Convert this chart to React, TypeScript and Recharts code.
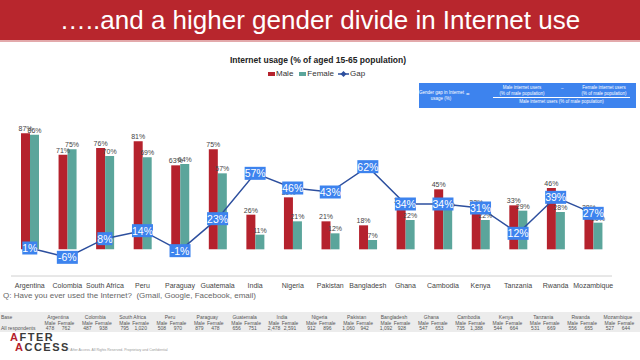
import React from 'react'
import { ComposedChart, Bar, Line, XAxis, YAxis, LabelList } from 'recharts'

const countries = [
  'Argentina', 'Colombia', 'South Africa', 'Peru', 'Paraguay', 'Guatemala', 'India', 'Nigeria',
  'Pakistan', 'Bangladesh', 'Ghana', 'Cambodia', 'Kenya', 'Tanzania', 'Rwanda', 'Mozambique',
]
const maleUsage = [87, 71, 76, 81, 63, 75, 26, 39, 21, 18, 33, 45, 32, 33, 46, 28]
const femaleUsage = [86, 75, 70, 69, 64, 57, 11, 21, 12, 7, 22, 30, 22, 29, 28, 20]
const gapPct = [1, -6, 8, 14, -1, 23, 57, 46, 43, 62, 34, 34, 31, 12, 39, 27]
const baseMale = ['478', '487', '795', '508', '879', '656', '2,478', '912', '1,060', '1,092', '547', '735', '544', '531', '556', '527']
const baseFemale = ['762', '938', '1,020', '970', '478', '751', '2,591', '896', '942', '928', '653', '1,388', '664', '669', '655', '644']

const RED = '#b5222d'
const TEAL = '#5ba59b'
const LINE = '#2d4f9e'
const BOX = '#3d83ee'
const FONT = '"Liberation Sans", Arial, sans-serif'

const data = countries.map((c, i) => ({
  country: c,
  male: maleUsage[i],
  female: femaleUsage[i],
  gap: gapPct[i],
}))

function GapLabel(props: any) {
  const { x, y, value } = props
  if (x == null || y == null) return null
  const txt = `${value}%`
  const w = txt.length * 6 + 3
  const h = 13
  return (
    <g>
      <rect x={x - w / 2} y={y - h / 2} width={w} height={h} fill={BOX} />
      <text x={x} y={y + 4} textAnchor="middle" fontSize={10.5} fill="#fff" fontFamily={FONT}>
        {txt}
      </text>
    </g>
  )
}

const pct = (v: any) => `${v}%`

function Formula() {
  const t: React.CSSProperties = { position: 'absolute', fontSize: 4.5, color: '#fff', whiteSpace: 'nowrap', lineHeight: '5.5px', textAlign: 'center' }
  return (
    <div style={{ position: 'absolute', left: 419, top: 83, width: 217, height: 25, background: BOX }}>
      <div style={{ ...t, left: 0, width: 44, top: 7 }}>Gender gap in Internet<br />usage (%)</div>
      <div style={{ ...t, left: 47, top: 9, fontSize: 6 }}>=</div>
      <div style={{ ...t, left: 78, width: 50, top: 2 }}>Male internet users<br />(% of male population)</div>
      <div style={{ ...t, left: 142, top: 3 }}>–</div>
      <div style={{ ...t, left: 160, width: 50, top: 2 }}>Female internet users<br />(% of male population)</div>
      <div style={{ position: 'absolute', left: 74, width: 137, top: 14, borderTop: '0.5px solid #fff' }} />
      <div style={{ ...t, left: 74, width: 137, top: 16 }}>Male internet users (% of male population)</div>
    </div>
  )
}

function BaseTable() {
  const cell: React.CSSProperties = { position: 'absolute', fontSize: 5, color: '#555', whiteSpace: 'nowrap', transform: 'translateX(-50%)', lineHeight: '6px' }
  return (
    <div style={{ position: 'absolute', left: 0, top: 312, width: 640, height: 20, background: '#ececec' }}>
      <div style={{ ...cell, transform: 'none', left: 1, top: 2 }}>Base</div>
      <div style={{ ...cell, transform: 'none', left: 1, top: 13 }}>All respondents</div>
      {countries.map((c, i) => {
        const mx = 50 + i * 37.33
        return (
          <React.Fragment key={c}>
            <div style={{ ...cell, left: mx + 8, top: 2 }}>{c}</div>
            <div style={{ ...cell, left: mx, top: 8 }}>Male</div>
            <div style={{ ...cell, left: mx + 16, top: 8 }}>Female</div>
            <div style={{ ...cell, left: mx, top: 13 }}>{baseMale[i]}</div>
            <div style={{ ...cell, left: mx + 16, top: 13 }}>{baseFemale[i]}</div>
          </React.Fragment>
        )
      })}
    </div>
  )
}

export default function App() {
  return (
    <div style={{ position: 'absolute', left: 0, top: 0, width: 640, height: 360, background: '#fff', fontFamily: FONT, overflow: 'hidden' }}>
      <div style={{ position: 'absolute', left: 0, top: 0, width: 640, height: 40, background: '#b8262d', borderBottom: '2px solid #e3a9ab' }}>
        <div style={{ position: 'absolute', left: 0, width: 640, top: 5, textAlign: 'center', color: '#fff', fontSize: 26 }}>
          …..and a higher gender divide in Internet use
        </div>
      </div>

      <div style={{ position: 'absolute', left: 0, width: 636, top: 55, textAlign: 'center', fontSize: 8.5, fontWeight: 'bold', color: '#222' }}>
        Internet usage (% of aged 15-65 population)
      </div>

      <div style={{ position: 'absolute', left: 268, top: 69, fontSize: 8, color: '#333', display: 'flex', alignItems: 'center' }}>
        <span style={{ display: 'inline-block', width: 7, height: 4, background: RED, marginRight: 1 }} />Male
        <span style={{ display: 'inline-block', width: 7, height: 4, background: TEAL, margin: '0 1px 0 6px' }} />Female
        <svg width={11} height={8} style={{ margin: '0 1px 0 4px' }}>
          <line x1={0} y1={4} x2={11} y2={4} stroke={LINE} strokeWidth={1.5} />
          <path d="M5.5 1 L8.5 4 L5.5 7 L2.5 4 Z" fill={LINE} />
        </svg>Gap
      </div>

      <Formula />

      <div style={{ position: 'absolute', left: 0, top: 0 }}>
        <ComposedChart width={640} height={300} data={data} margin={{ top: 116, right: 28, bottom: 4, left: 11 }} barGap={0} barCategoryGap={0}>
          <XAxis
            dataKey="country"
            interval={0}
            tickLine={false}
            axisLine={{ stroke: '#d0d0d0' }}
            tick={{ fontSize: 7, fill: '#444', fontFamily: FONT }}
            height={20}
            tickMargin={1}
          />
          <YAxis hide domain={[-20, 100]} />
          <Bar dataKey="male" fill={RED} barSize={9} isAnimationActive={false}>
            <LabelList dataKey="male" position="top" offset={2} formatter={pct} fontSize={7} fill="#444" fontFamily={FONT} />
          </Bar>
          <Bar dataKey="female" fill={TEAL} barSize={9} isAnimationActive={false}>
            <LabelList dataKey="female" position="top" offset={2} formatter={pct} fontSize={7} fill="#444" fontFamily={FONT} />
          </Bar>
          <Line dataKey="gap" stroke={LINE} strokeWidth={1.5} dot={false} isAnimationActive={false} label={<GapLabel />} />
        </ComposedChart>
      </div>

      <div style={{ position: 'absolute', left: 3, top: 291, fontSize: 8, color: '#666' }}>
        Q: Have you ever used the Internet?&nbsp; (Gmail, Google, Facebook, email)
      </div>

      <BaseTable />

      <div style={{ position: 'absolute', left: 10, top: 332, fontWeight: 'bold', fontSize: 11, color: '#3a3a3a', letterSpacing: 1.5, lineHeight: '10px' }}>
        <div><span style={{ color: RED }}>A</span>FTER</div>
        <div style={{ marginLeft: 5 }}><span style={{ color: RED }}>A</span>CCESS</div>
      </div>
      <div style={{ position: 'absolute', left: 67, top: 348, fontSize: 3.5, color: '#999', whiteSpace: 'nowrap' }}>
        © After Access. All Rights Reserved. Proprietary and Confidential
      </div>
    </div>
  )
}
